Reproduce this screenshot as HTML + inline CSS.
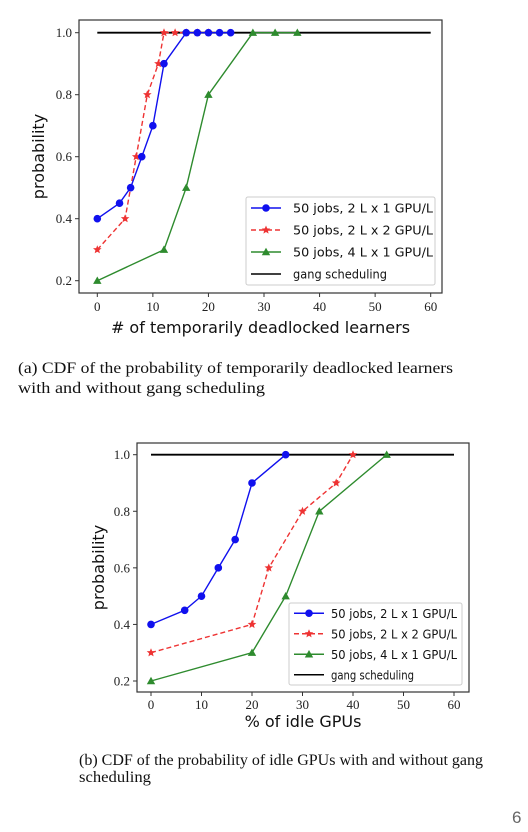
<!DOCTYPE html>
<html><head><meta charset="utf-8"><style>
html,body{margin:0;padding:0;background:#fff;width:528px;height:832px;overflow:hidden}
svg{display:block}
.tk{font-family:"Liberation Serif",serif;font-size:13px;fill:#222}
.lg{font-family:"DejaVu Sans","Liberation Sans",sans-serif;font-size:12px;fill:#111}
.ax{font-family:"DejaVu Sans","Liberation Sans",sans-serif;font-size:16px;fill:#111}
.cap{font-family:"Liberation Serif",serif;font-size:16px;fill:#111}
</style></head><body>
<svg id="page" width="528" height="832" xmlns="http://www.w3.org/2000/svg">
<text class="cap" x="18" y="373" textLength="435" lengthAdjust="spacingAndGlyphs">(a)  CDF of the probability of temporarily deadlocked learners</text>
<text class="cap" x="18" y="393" textLength="247" lengthAdjust="spacingAndGlyphs">with and without gang scheduling</text>
<text class="cap" x="79" y="765" textLength="404" lengthAdjust="spacingAndGlyphs">(b)  CDF of the probability of idle GPUs with and without gang</text>
<text class="cap" x="79" y="782" textLength="72" lengthAdjust="spacingAndGlyphs">scheduling</text>
<text x="512" y="823" style="font-family:'Liberation Sans',sans-serif;font-size:17px;fill:#666">6</text>
</svg>
<script>
// Chart A data
const aBlueX=[0,4,6,8,10,12,16,18,20,22,24];
const aBlueY=[0.4,0.45,0.5,0.6,0.7,0.9,1,1,1,1,1];
const aRedX=[0,5,7,9,11,12,14,16,18,20];
const aRedY=[0.3,0.4,0.6,0.8,0.9,1,1,1,1,1];
const aGreenX=[0,12,16,20,28,32,36];
const aGreenY=[0.2,0.3,0.5,0.8,1,1,1];
// Chart B data
const bBlueX=[0,6.67,10,13.33,16.67,20,26.67];
const bBlueY=[0.4,0.45,0.5,0.6,0.7,0.9,1];
const bRedX=[0,20,23.33,30,36.67,40];
const bRedY=[0.3,0.4,0.6,0.8,0.9,1];
const bGreenX=[0,20,26.67,33.33,46.67];
const bGreenY=[0.2,0.3,0.5,0.8,1];
const gangX=[0,60];
const gangY=[1,1];
const xTicks=[0,10,20,30,40,50,60];
const yTicks=[0.2,0.4,0.6,0.8,1.0];
const legendLabels=["50 jobs, 2 L x 1 GPU/L","50 jobs, 2 L x 2 GPU/L","50 jobs, 4 L x 1 GPU/L","gang scheduling"];

const NS="http://www.w3.org/2000/svg";
const svg=document.getElementById('page');
function mk(tag,attrs,parent){const e=document.createElementNS(NS,tag);for(const k in attrs)e.setAttribute(k,attrs[k]);(parent||svg).appendChild(e);return e;}
function star(cx,cy,r){let p=[];for(let i=0;i<10;i++){const a=-Math.PI/2+i*Math.PI/5;const rr=i%2?r*0.45:r;p.push((cx+rr*Math.cos(a)).toFixed(1)+","+(cy+rr*Math.sin(a)).toFixed(1));}return p.join(" ");}
function marker(g,type,x,y,c){
  if(type==='o'){const m=mk('circle',{cx:x,cy:y,r:3.8,fill:c},g);}
  else if(type==='*'){const m=mk('polygon',{points:star(x,y,4.5),fill:c},g);}
  else if(type==='^'){const m=mk('polygon',{points:`${x},${y-4.2} ${x-4.2},${y+3.2} ${x+4.2},${y+3.2}`,fill:c},g);}
}
function chart(cfg){
  const g=mk('g',{});
  
  
  const sx=v=>cfg.x0+(v-0)*(cfg.x60-cfg.x0)/60;
  const sy=v=>cfg.y02+(v-0.2)*(cfg.y1-cfg.y02)/0.8;
  const f=mk('rect',{x:cfg.L,y:cfg.T,width:cfg.R-cfg.L,height:cfg.B-cfg.T,fill:'none',stroke:'#333','stroke-width':1.2},g);
  
  xTicks.forEach(t=>{mk('line',{x1:sx(t),x2:sx(t),y1:cfg.B,y2:cfg.B+4,stroke:'#333'},g);
    const tx=mk('text',{x:sx(t),y:cfg.tickY,'text-anchor':'middle',class:'tk'},g);tx.textContent=t;
    });
  yTicks.forEach(t=>{mk('line',{x1:cfg.L-4,x2:cfg.L,y1:sy(t),y2:sy(t),stroke:'#333'},g);
    const tx=mk('text',{x:cfg.L-7,y:sy(t)+4.5,'text-anchor':'end',class:'tk'},g);tx.textContent=t.toFixed(1);
    });
  const xl=mk('text',{x:(cfg.L+cfg.R)/2,y:cfg.xlY,'text-anchor':'middle',class:'ax'},g);xl.textContent=cfg.xlabel;
  
  const yl=mk('text',{x:0,y:0,'text-anchor':'middle',class:'ax',transform:`translate(${cfg.ylX},${(cfg.T+cfg.B)/2}) rotate(-90)`},g);yl.textContent='probability';
  
  const series=[
    {x:gangX,y:gangY,c:'#000',m:null,dash:null,n:'series-gang'},
    {x:cfg.green[0],y:cfg.green[1],c:'#2e8b2e',m:'^',dash:null,n:'series-4l-1gpu'},
    {x:cfg.red[0],y:cfg.red[1],c:'#ee3333',m:'*',dash:'5,3',n:'series-2l-2gpu'},
    {x:cfg.blue[0],y:cfg.blue[1],c:'#1010ee',m:'o',dash:null,n:'series-2l-1gpu'}];
  series.forEach(s=>{
    const pts=s.x.map((v,i)=>sx(v).toFixed(1)+","+sy(s.y[i]).toFixed(1)).join(" ");
    const pl=mk('polyline',{points:pts,fill:'none',stroke:s.c,'stroke-width':s.m?1.4:1.8},g);
    if(s.dash)pl.setAttribute('stroke-dasharray',s.dash);
    
    if(s.m)s.x.forEach((v,i)=>marker(g,s.m,sx(v),sy(s.y[i]),s.c));
  });
  const lg=mk('g',{},g);
  mk('rect',{x:cfg.lg[0],y:cfg.lg[1],width:cfg.lg[2],height:cfg.lg[3],fill:'#fff',stroke:'#ccc',rx:2},lg);
  const cols=['#1010ee','#ee3333','#2e8b2e','#000'],ms=['o','*','^',null];
  const step=cfg.lg[3]/4;
  legendLabels.forEach((lab,i)=>{
    const y=cfg.lg[1]+step*(i+0.5);
    const x1=cfg.lg[0]+5,x2=x1+30;
    const ln=mk('line',{x1:x1,x2:x2,y1:y,y2:y,stroke:cols[i],'stroke-width':1.6},lg);
    if(i===1)ln.setAttribute('stroke-dasharray','5,3');
    if(ms[i])marker(lg,ms[i],(x1+x2)/2,y,cols[i]);
    const t=mk('text',{x:cfg.lgTx,y:y+4.5,class:'lg',textLength:(i===3?cfg.lgW2:cfg.lgW),lengthAdjust:'spacingAndGlyphs'},lg);t.textContent=lab;
    
  });
}
chart({name:'chart-deadlocked-learners',L:79,R:442,T:20,B:293,x0:97.3,x60:430.7,y1:32.7,y02:280.7,
  tickY:311,xlY:333,ylX:44,xlabel:'# of temporarily deadlocked learners',
  blue:[aBlueX,aBlueY],red:[aRedX,aRedY],green:[aGreenX,aGreenY],lg:[246,197,189,88],lgTx:293,lgW:140,lgW2:94});
chart({name:'chart-idle-gpus',L:137,R:469,T:443,B:692,x0:151,x60:454,y1:454.7,y02:681,
  tickY:709,xlY:727,ylX:104,xlabel:'% of idle GPUs',
  blue:[bBlueX,bBlueY],red:[bRedX,bRedY],green:[bGreenX,bGreenY],lg:[289,603,173,82],lgTx:331,lgW:126,lgW2:83});
</script>
</body></html>
